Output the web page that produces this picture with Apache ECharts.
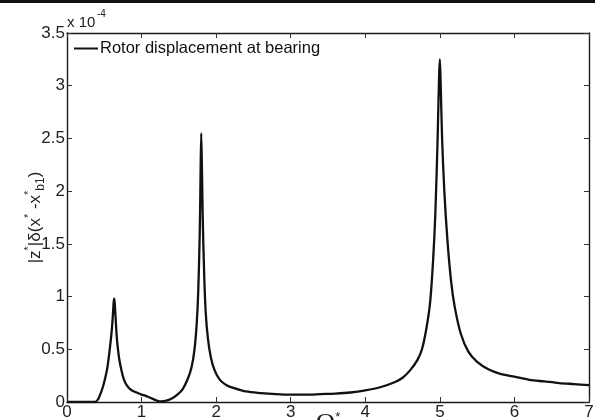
<!DOCTYPE html>
<html>
<head>
<meta charset="utf-8">
<script src="https://cdn.jsdelivr.net/npm/echarts@6/dist/echarts.min.js"></script>
<style>
html,body{margin:0;padding:0;background:#fff;}
#c{width:595px;height:420px;}
</style>
</head>
<body>
<div id="c"></div>
<script>
// Frequency Ω* (x) and displacement (units of 1e-4)
var omega = [0,0.38,0.42,0.45,0.48,0.51,0.54,0.57,0.6,0.615,0.625,0.632,0.64,0.65,0.665,0.68,0.7,0.73,0.76,0.8,0.85,0.9,0.95,1.0,1.05,1.1,1.15,1.2,1.26,1.32,1.4,1.48,1.55,1.62,1.67,1.71,1.74,1.76,1.78,1.79,1.8,1.81,1.82,1.84,1.86,1.89,1.93,1.98,2.05,2.14,2.25,2.4,2.6,2.8,3.0,3.2,3.4,3.6,3.8,4.0,4.2,4.4,4.5,4.6,4.7,4.76,4.82,4.87,4.91,4.94,4.97,4.99,5.0,5.01,5.03,5.06,5.1,5.15,5.2,5.28,5.38,5.5,5.65,5.8,6.0,6.2,6.4,6.6,6.8,7.0];
var disp = [0,0,0.03,0.08,0.14,0.22,0.32,0.48,0.68,0.82,0.94,0.98,0.94,0.82,0.64,0.52,0.41,0.3,0.22,0.16,0.12,0.1,0.085,0.07,0.06,0.045,0.03,0.015,0.005,0.01,0.03,0.07,0.12,0.22,0.33,0.5,0.75,1.05,1.6,2.1,2.55,2.2,1.75,1.2,0.85,0.6,0.42,0.3,0.21,0.16,0.13,0.1,0.085,0.075,0.07,0.07,0.075,0.08,0.09,0.11,0.14,0.19,0.23,0.3,0.4,0.5,0.7,0.95,1.35,1.8,2.5,3.1,3.25,3.05,2.5,2.0,1.55,1.15,0.9,0.65,0.48,0.38,0.31,0.27,0.24,0.21,0.195,0.18,0.17,0.16];
var xTicks = [0,1,2,3,4,5,6,7];
var yTicks = [0,0.5,1,1.5,2,2.5,3,3.5];
var seriesName = 'Rotor displacement at bearing';

var data = omega.map(function(x,i){return [x, disp[i]];});
var FF = '"Liberation Sans", Arial, sans-serif';
var chart = echarts.init(document.getElementById('c'), null, {renderer:'canvas'});
var axisLine = {show:true, onZero:false, lineStyle:{color:'#1a1a1a', width:1.4}};
var tick = {show:true, inside:true, length:5, lineStyle:{color:'#333', width:1}};
chart.setOption({
  animation:false,
  backgroundColor:'#fff',
  grid:{left:67, right:6, top:33, bottom:18, containLabel:false, outerBoundsMode:'none'},
  legend:{
    show:true, data:[seriesName], left:74, top:40, itemWidth:24, itemHeight:2, itemGap:2,
    icon:'rect', padding:0,
    textStyle:{fontFamily:FF, fontSize:16.5, color:'#111', padding:[0,0,0,-3]}
  },
  xAxis:[{
    type:'value', min:xTicks[0], max:xTicks[xTicks.length-1], interval:1,
    axisLine:axisLine, axisTick:tick, splitLine:{show:false},
    axisLabel:{fontFamily:FF, fontSize:17, color:'#222', margin:2},
    name:'{o|Ω}{s|*}', nameLocation:'middle', nameGap:9, nameMoveOverlap:false,
    nameTextStyle:{verticalAlign:'top', rich:{
      o:{fontFamily:'"Liberation Serif", serif', fontSize:26, color:'#222', lineHeight:26, verticalAlign:'bottom'},
      s:{fontFamily:FF, fontSize:13, color:'#222', lineHeight:26, verticalAlign:'top'}
    }}
  },{
    type:'value', position:'top', min:0, max:7, interval:1,
    axisLine:axisLine, axisTick:tick, axisLabel:{show:false}, splitLine:{show:false}
  }],
  yAxis:[{
    type:'value', min:yTicks[0], max:yTicks[yTicks.length-1], interval:0.5,
    axisLine:axisLine, axisTick:tick, splitLine:{show:false},
    axisLabel:{fontFamily:FF, fontSize:17, color:'#222', margin:2},
    name:'{a||z}{s|*}{a||δ(x}{s|*}{a| -x}{s|*}{b|b1}{a|)}',
    nameLocation:'middle', nameGap:20, nameRotate:90, nameMoveOverlap:false,
    nameTextStyle:{
      rich:{
        a:{fontFamily:FF, fontSize:17, color:'#222', lineHeight:24, verticalAlign:'middle'},
        s:{fontFamily:FF, fontSize:11, color:'#222', lineHeight:24, verticalAlign:'top'},
        b:{fontFamily:FF, fontSize:12, color:'#222', lineHeight:24, verticalAlign:'bottom'}
      }
    }
  },{
    type:'value', position:'right', min:0, max:3.5, interval:0.5,
    axisLine:axisLine, axisTick:tick, axisLabel:{show:false}, splitLine:{show:false}
  }],
  series:[{
    name:seriesName, type:'line', data:data, xAxisIndex:0, yAxisIndex:0,
    showSymbol:false, symbol:'none', smooth:0.3,
    lineStyle:{color:'#111', width:2.3},
    itemStyle:{color:'#111'}
  }],
  graphic:[
    {type:'rect', left:0, top:0, shape:{width:595, height:3}, style:{fill:'#111'}},
    {type:'text', left:67, top:15, style:{text:'x 10', font:'15px ' + FF, fill:'#222'}},
    {type:'text', left:97, top:9, style:{text:'-4', font:'10px ' + FF, fill:'#222'}}
  ]
});
</script>
</body>
</html>
